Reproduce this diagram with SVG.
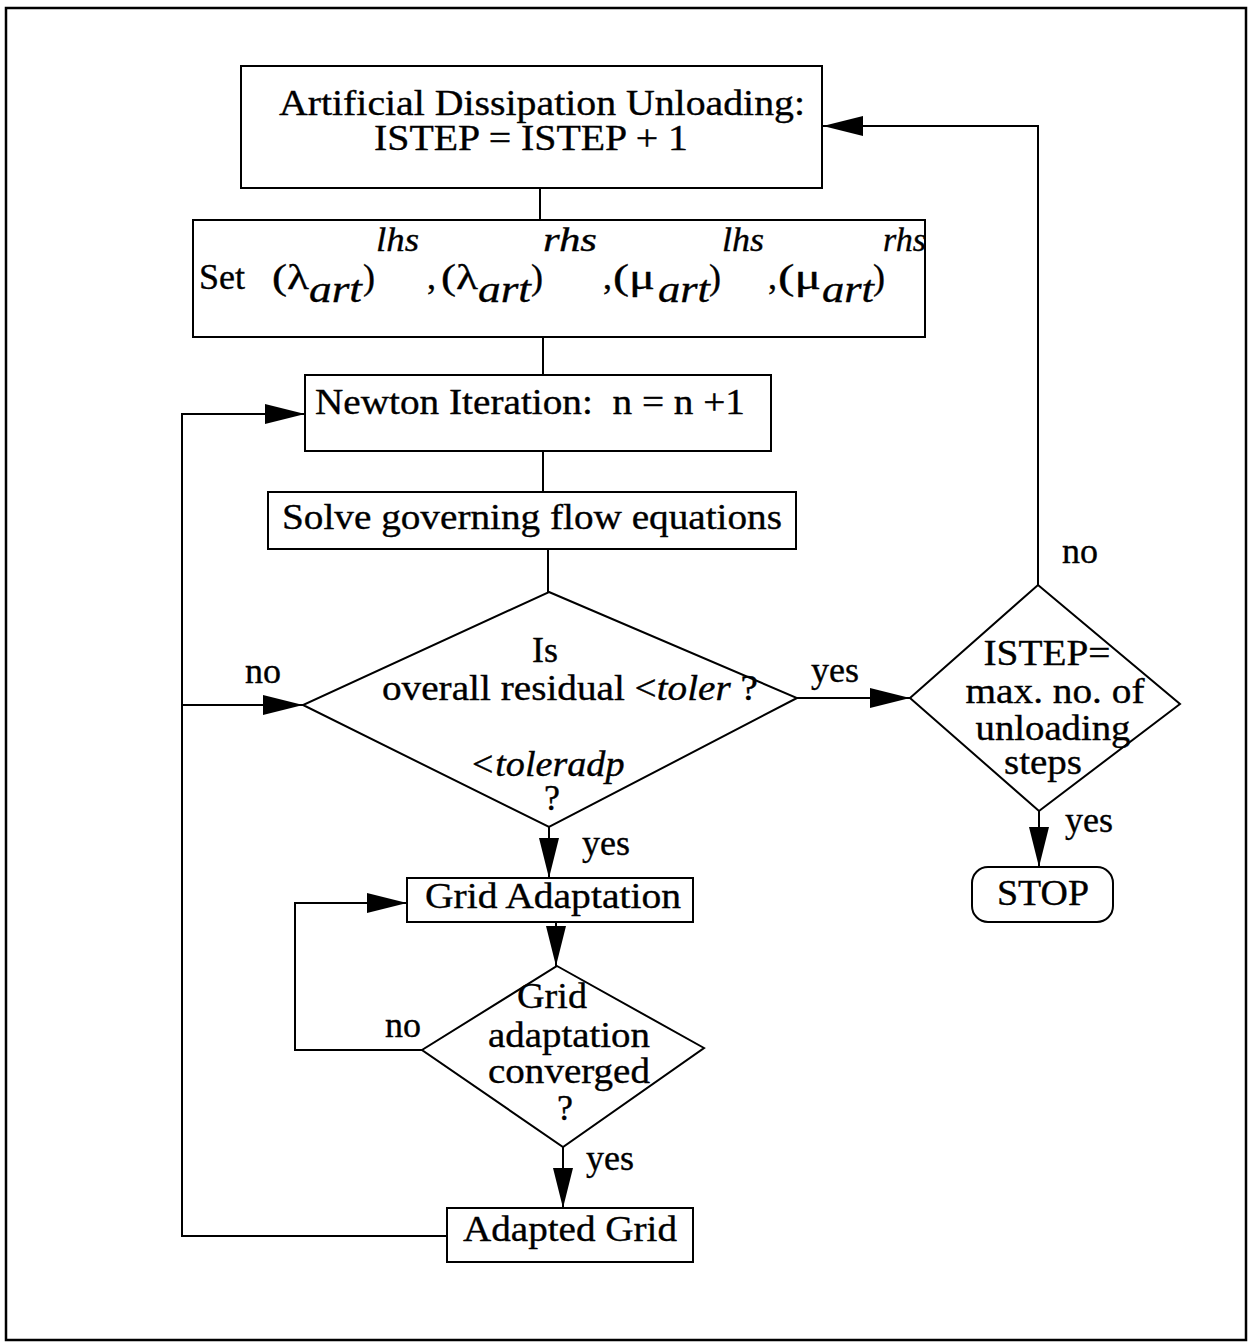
<svg xmlns="http://www.w3.org/2000/svg" width="1250" height="1344" viewBox="0 0 1250 1344">
<style>
  text { font-family: "Liberation Serif", "Times New Roman", serif; font-size: 36px; fill: #000; stroke: #000; stroke-width: 0.35; }
  .it { font-style: italic; }
  .sub { font-style: italic; font-size: 38px; }
  .sup { font-style: italic; font-size: 34px; }
  .box { fill: #fff; stroke: #000; stroke-width: 2; }
  .ln { fill: none; stroke: #000; stroke-width: 2; }
  .c { text-anchor: middle; }
</style>
<defs>
  <marker id="ah" markerUnits="userSpaceOnUse" markerWidth="40" markerHeight="20" viewBox="0 0 40 20" refX="40" refY="10" orient="auto">
    <path d="M0,0 L40,10 L0,20 z" fill="#000"/>
  </marker>
</defs>
<rect x="0" y="0" width="1250" height="1344" fill="#fff"/>
<rect id="frame" x="6" y="8" width="1240" height="1332" fill="none" stroke="#000" stroke-width="2.5"/>

<g id="connectors">
  <path class="ln" d="M540,188 V220"/>
  <path class="ln" d="M543,337 V375"/>
  <path class="ln" d="M543,451 V492"/>
  <path class="ln" d="M548,549 V592"/>
  <path class="ln" d="M1038,585 V126 H823" marker-end="url(#ah)"/>
  <path class="ln" d="M447,1236 H182 V414 H305" marker-end="url(#ah)"/>
  <path class="ln" d="M182,705 H303" marker-end="url(#ah)"/>
  <path class="ln" d="M797,698 H910" marker-end="url(#ah)"/>
  <path class="ln" d="M549,827 V878" marker-end="url(#ah)"/>
  <path class="ln" d="M556,922 V966" marker-end="url(#ah)"/>
  <path class="ln" d="M422,1050 H295 V903 H407" marker-end="url(#ah)"/>
  <path class="ln" d="M563,1147 V1208" marker-end="url(#ah)"/>
  <path class="ln" d="M1039,811 V867" marker-end="url(#ah)"/>
  <text x="263" y="683" class="c">no</text>
  <text x="835" y="682" class="c">yes</text>
  <text x="1080" y="563" class="c">no</text>
  <text x="606" y="855" class="c">yes</text>
  <text x="403" y="1037" class="c">no</text>
  <text x="610" y="1170" class="c">yes</text>
  <text x="1089" y="832" class="c">yes</text>
</g>

<g id="unloading">
  <rect class="box" x="241" y="66" width="581" height="122"/>
  <text x="542" y="115" class="c" textLength="526" lengthAdjust="spacingAndGlyphs">Artificial Dissipation Unloading:</text>
  <text x="531" y="150" class="c" textLength="314" lengthAdjust="spacingAndGlyphs">ISTEP = ISTEP + 1</text>
</g>

<g id="set-params">
  <rect class="box" x="193" y="220" width="732" height="117"/>
  <text x="199" y="289" textLength="46" lengthAdjust="spacingAndGlyphs">Set</text>
  <text x="272" y="289" textLength="37" lengthAdjust="spacingAndGlyphs">(λ</text>
  <text x="309" y="302" class="sub" textLength="53" lengthAdjust="spacingAndGlyphs">art</text>
  <text x="363" y="289">)</text>
  <text x="376" y="251" class="sup" textLength="43" lengthAdjust="spacingAndGlyphs">lhs</text>
  <text x="427" y="289">,</text>
  <text x="441" y="289" textLength="37" lengthAdjust="spacingAndGlyphs">(λ</text>
  <text x="478" y="302" class="sub" textLength="53" lengthAdjust="spacingAndGlyphs">art</text>
  <text x="531" y="289">)</text>
  <text x="543" y="251" class="sup" textLength="54" lengthAdjust="spacingAndGlyphs">rhs</text>
  <text x="603" y="289">,</text>
  <text x="613" y="289" textLength="42" lengthAdjust="spacingAndGlyphs">(μ</text>
  <text x="658" y="302" class="sub" textLength="52" lengthAdjust="spacingAndGlyphs">art</text>
  <text x="709" y="289">)</text>
  <text x="722" y="251" class="sup" textLength="42" lengthAdjust="spacingAndGlyphs">lhs</text>
  <text x="768" y="289">,</text>
  <text x="778" y="289" textLength="43" lengthAdjust="spacingAndGlyphs">(μ</text>
  <text x="822" y="302" class="sub" textLength="52" lengthAdjust="spacingAndGlyphs">art</text>
  <text x="873" y="289">)</text>
  <text x="883" y="251" class="sup" textLength="43" lengthAdjust="spacingAndGlyphs">rhs</text>
</g>

<g id="newton">
  <rect class="box" x="305" y="375" width="466" height="76"/>
  <text x="530" y="414" class="c" textLength="430" lengthAdjust="spacingAndGlyphs" xml:space="preserve">Newton Iteration:  n = n +1</text>
</g>

<g id="solve">
  <rect class="box" x="268" y="492" width="528" height="57"/>
  <text x="532" y="529" class="c" textLength="500" lengthAdjust="spacingAndGlyphs">Solve governing flow equations</text>
</g>

<g id="residual-check">
  <polygon class="box" points="549,592 797,698 549,827 303,705"/>
  <text x="545" y="662" class="c">Is</text>
  <text x="570" y="700" class="c" textLength="376" lengthAdjust="spacingAndGlyphs">overall residual &lt;<tspan class="it">toler</tspan> ?</text>
  <text x="547" y="776" class="c it" textLength="155" lengthAdjust="spacingAndGlyphs">&lt;toleradp</text>
  <text x="552" y="810" class="c">?</text>
</g>

<g id="istep-check">
  <polygon class="box" points="1038,585 1180,704 1039,811 910,698"/>
  <text x="1047" y="665" class="c" textLength="127" lengthAdjust="spacingAndGlyphs">ISTEP=</text>
  <text x="1055" y="703" class="c" textLength="179" lengthAdjust="spacingAndGlyphs">max. no. of</text>
  <text x="1053" y="740" class="c" textLength="155" lengthAdjust="spacingAndGlyphs">unloading</text>
  <text x="1043" y="774" class="c" textLength="78" lengthAdjust="spacingAndGlyphs">steps</text>
</g>

<g id="stop">
  <rect class="box" x="972" y="867" width="141" height="55" rx="16" ry="16"/>
  <text x="1043" y="905" class="c" textLength="92" lengthAdjust="spacingAndGlyphs">STOP</text>
</g>

<g id="grid-adaptation">
  <rect class="box" x="407" y="878" width="286" height="44"/>
  <text x="553" y="908" class="c" textLength="256" lengthAdjust="spacingAndGlyphs">Grid Adaptation</text>
</g>

<g id="grid-converged">
  <polygon class="box" points="557,966 704,1048 563,1147 422,1050"/>
  <text x="552" y="1008" class="c" textLength="70" lengthAdjust="spacingAndGlyphs">Grid</text>
  <text x="569" y="1047" class="c" textLength="162" lengthAdjust="spacingAndGlyphs">adaptation</text>
  <text x="569" y="1083" class="c" textLength="162" lengthAdjust="spacingAndGlyphs">converged</text>
  <text x="565" y="1120" class="c">?</text>
</g>

<g id="adapted-grid">
  <rect class="box" x="447" y="1208" width="246" height="54"/>
  <text x="570" y="1241" class="c" textLength="214" lengthAdjust="spacingAndGlyphs">Adapted Grid</text>
</g>
</svg>
